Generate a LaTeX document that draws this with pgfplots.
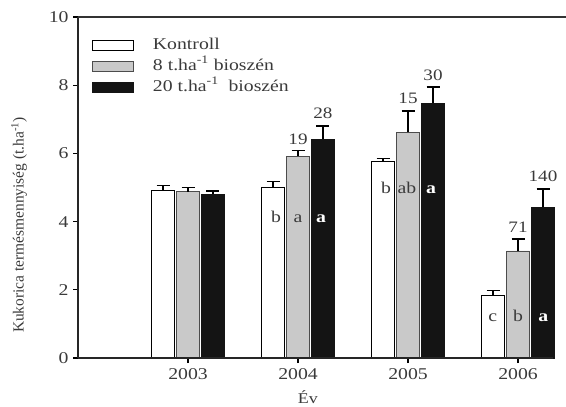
\documentclass[border=0pt]{standalone}
\usepackage{fontspec}
\setmainfont[FakeStretch=1.2]{Liberation Serif}
\newfontfamily\plainserif{Liberation Serif}
\usepackage{pgfplots}
\pgfplotsset{compat=1.18}
\definecolor{barGray}{HTML}{C9C9C9}
\definecolor{barBlack}{HTML}{141414}
\definecolor{txtGray}{HTML}{3A3A3A}
\begin{document}
\begin{tikzpicture}
\useasboundingbox (-78bp,-49bp) rectangle (488bp,358bp);
\begin{axis}[
  at={(0,0)}, anchor=south west,
  scale only axis, width=488bp, height=341bp,
  xmin=2002, xmax=2006.436, ymin=0, ymax=10,
  ybar, bar width=0.209,
  axis line style={draw=none},
  xtick={2003,2004,2005,2006},
  xticklabels={2003,2004,2005,2006},
  ytick={0,2,4,6,8,10},
  tick align=outside, xtick pos=left, ytick pos=left,
  major tick length=5bp,
  tick style={black, line width=1.2bp},
  /pgf/number format/assume math mode=true,
  ticklabel style={font=\fontsize{16.5}{18}\selectfont, text=txtGray},
  yticklabel style={xshift=-1bp},
  xticklabel style={yshift=-2bp},
  clip=false,
  legend style={draw=none, fill=none, at={(14bp,321bp)}, anchor=north west,
    inner sep=0pt, font=\fontsize{16.5}{18}\selectfont, row sep=5bp,
    nodes={inner sep=0pt, text height=12bp, text depth=4bp, text=txtGray},
    /tikz/every odd column/.append style={column sep=19bp}},
  legend cell align=left,
  error bars/y dir=plus, error bars/y explicit,
  error bars/error bar style={black, line width=1.5bp},
  error bars/error mark options={rotate=90, mark size=6.5bp, line width=1.5bp, black},
]
\addplot[fill=white, draw=black, line width=0.8bp, bar shift=-0.227,
  legend image code/.code={\draw[fill=white, draw=black, line width=0.8bp] (0bp,-5bp) rectangle (41bp,5bp);}]
  coordinates {(2003,4.91) +- (0,0.15) (2004,5.01) +- (0,0.16) (2005,5.78) +- (0,0.07) (2006,1.83) +- (0,0.15)};
\addplot[fill=barGray, draw=black!70, line width=0.8bp, bar shift=0,
  legend image code/.code={\draw[fill=barGray, draw=black!70, line width=0.8bp] (0bp,-5bp) rectangle (41bp,5bp);}]
  coordinates {(2003,4.88) +- (0,0.12) (2004,5.92) +- (0,0.16) (2005,6.62) +- (0,0.63) (2006,3.14) +- (0,0.35)};
\addplot[fill=barBlack, draw=barBlack, line width=0.8bp, bar shift=0.227,
  legend image code/.code={\draw[fill=barBlack, draw=barBlack, line width=0.8bp] (0bp,-5bp) rectangle (41bp,5bp);}]
  coordinates {(2003,4.80) +- (0,0.10) (2004,6.42) +- (0,0.39) (2005,7.47) +- (0,0.48) (2006,4.42) +- (0,0.54)};
\legend{Kontroll, 8 t.ha\textsuperscript{-1} bioszén, 20 t.ha\textsuperscript{-1}\ \ bioszén}
% axis lines
\draw[line width=2bp, black!85] (axis cs:2002,0) -- (axis cs:2002,10);
\draw[line width=2bp, black!80] (rel axis cs:0,1) -- (rel axis cs:1,1);
\draw[line width=1.5bp, black!85] (axis cs:2002,0) -- (axis cs:2006.318,0);
% numbers above bars
\begin{scope}[every node/.style={font=\fontsize{16}{17}\selectfont, text=txtGray, anchor=base, inner sep=0pt}]
\node at (axis cs:2004,6.27) {19};
\node at (axis cs:2004.227,7.03) {28};
\node at (axis cs:2005,7.46) {15};
\node at (axis cs:2005.227,8.14) {30};
\node at (axis cs:2006,3.67) {71};
\node at (axis cs:2006.227,5.19) {140};
\end{scope}
% letters inside bars
\begin{scope}[every node/.style={font=\fontsize{16.5}{18}\selectfont, anchor=base, inner sep=0pt}]
\node[text=txtGray] at (axis cs:2003.80,3.97) {b};
\node[text=txtGray] at (axis cs:2004,3.97) {a};
\node[text=white, font=\fontsize{16.5}{18}\selectfont\bfseries] at (axis cs:2004.21,3.97) {a};
\node[text=txtGray] at (axis cs:2004.80,4.81) {b};
\node[text=txtGray] at (axis cs:2004.99,4.81) {ab};
\node[text=white, font=\fontsize{16.5}{18}\selectfont\bfseries] at (axis cs:2005.21,4.81) {a};
\node[text=txtGray] at (axis cs:2005.77,1.06) {c};
\node[text=txtGray] at (axis cs:2006,1.06) {b};
\node[text=white, font=\fontsize{16.5}{18}\selectfont\bfseries] at (axis cs:2006.23,1.06) {a};
\end{scope}
% axis titles
\node[font=\fontsize{15}{17}\selectfont, text=txtGray, anchor=base] at (axis cs:2004.09,0) [yshift=-45bp] {Év};
\node[xshift=-59bp, font=\plainserif\fontsize{15.5}{17}\selectfont, text=txtGray, rotate=90] at (rel axis cs:0,0.39) {Kukorica termésmennyiség (t.ha\textsuperscript{-1})};
\end{axis}
\end{tikzpicture}
\end{document}
